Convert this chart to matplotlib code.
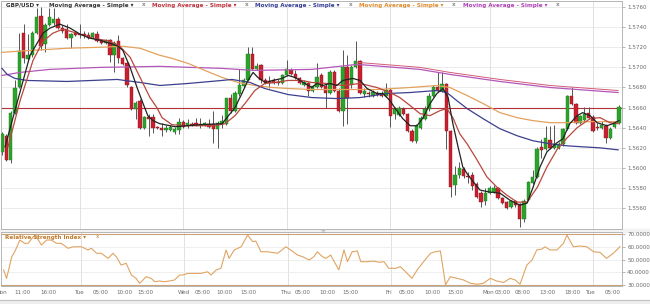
import matplotlib
matplotlib.use("Agg")
import matplotlib.pyplot as plt
import numpy as np

# ---------------- data ----------------
opens = [1.5616,1.5632,1.5608,1.5655,1.5680,1.5734,1.5708,1.5712,1.5734,1.5751,
         1.5723,1.5742,1.5744,1.5748,1.5739,1.5738,1.5729,1.5734,1.5733,1.5733,
         1.5732,1.5730,1.5733,1.5727,1.5724,1.5727,1.5712,1.5726,1.5709,1.5704,
         1.5680,1.5659,1.5667,1.5640,1.5651,1.5651,1.5641,1.5640,1.5638,1.5638,
         1.5636,1.5638,1.5646,1.5642,1.5644,1.5645,1.5644,1.5644,1.5644,1.5644,
         1.5639,1.5644,1.5644,1.5670,1.5657,1.5674,1.5681,1.5687,1.5713,1.5698,
         1.5702,1.5687,1.5686,1.5687,1.5685,1.5684,1.5692,1.5697,1.5693,1.5689,
         1.5682,1.5684,1.5677,1.5680,1.5692,1.5681,1.5675,1.5695,1.5677,1.5657,
         1.5700,1.5682,1.5700,1.5706,1.5674,1.5675,1.5672,1.5675,1.5674,1.5672,
         1.5678,1.5654,1.5653,1.5659,1.5654,1.5637,1.5627,1.5640,1.5649,1.5659,
         1.5672,1.5680,1.5677,1.5683,1.5637,1.5583,1.5593,1.5599,1.5592,1.5593,
         1.5584,1.5575,1.5567,1.5575,1.5576,1.5580,1.5570,1.5566,1.5561,1.5567,
         1.5564,1.5549,1.5568,1.5585,1.5591,1.5621,1.5619,1.5628,1.5620,1.5620,
         1.5624,1.5639,1.5672,1.5664,1.5645,1.5648,1.5655,1.5651,1.5641,1.5640,
         1.5642,1.5630,1.5641,1.5645]
highs = [1.5636,1.5634,1.5657,1.5687,1.5734,1.5743,1.5733,1.5736,1.5759,1.5760,
         1.5744,1.5759,1.5759,1.5750,1.5742,1.5743,1.5734,1.5736,1.5743,1.5736,
         1.5735,1.5735,1.5736,1.5728,1.5728,1.5728,1.5726,1.5732,1.5710,1.5705,
         1.5681,1.5667,1.5669,1.5652,1.5654,1.5654,1.5642,1.5645,1.5643,1.5643,
         1.5641,1.5650,1.5648,1.5649,1.5646,1.5650,1.5650,1.5646,1.5649,1.5657,
         1.5647,1.5653,1.5670,1.5674,1.5677,1.5698,1.5689,1.5720,1.5720,1.5704,
         1.5703,1.5689,1.5691,1.5689,1.5688,1.5693,1.5707,1.5699,1.5697,1.5690,
         1.5687,1.5685,1.5682,1.5704,1.5694,1.5683,1.5697,1.5697,1.5679,1.5717,
         1.5712,1.5702,1.5726,1.5707,1.5679,1.5677,1.5678,1.5677,1.5677,1.5684,
         1.5679,1.5661,1.5662,1.5661,1.5655,1.5639,1.5644,1.5652,1.5662,1.5675,
         1.5682,1.5695,1.5695,1.5684,1.5638,1.5602,1.5606,1.5601,1.5596,1.5596,
         1.5586,1.5577,1.5580,1.5582,1.5583,1.5581,1.5571,1.5567,1.5568,1.5568,
         1.5565,1.5569,1.5587,1.5598,1.5621,1.5629,1.5642,1.5642,1.5643,1.5626,
         1.5640,1.5673,1.5680,1.5665,1.5653,1.5661,1.5661,1.5653,1.5645,1.5647,
         1.5644,1.5641,1.5647,1.5663]
lows = [1.5613,1.5607,1.5605,1.5654,1.5679,1.5704,1.5707,1.5710,1.5733,1.5717,
        1.5715,1.5741,1.5742,1.5738,1.5734,1.5728,1.5719,1.5731,1.5729,1.5729,
        1.5728,1.5729,1.5725,1.5723,1.5723,1.5705,1.5695,1.5704,1.5702,1.5680,
        1.5658,1.5649,1.5639,1.5639,1.5632,1.5635,1.5639,1.5632,1.5636,1.5637,
        1.5634,1.5634,1.5640,1.5640,1.5642,1.5642,1.5640,1.5642,1.5640,1.5625,
        1.5620,1.5640,1.5643,1.5655,1.5656,1.5672,1.5680,1.5686,1.5697,1.5697,
        1.5684,1.5683,1.5679,1.5683,1.5682,1.5683,1.5691,1.5692,1.5688,1.5683,
        1.5681,1.5672,1.5676,1.5679,1.5679,1.5660,1.5674,1.5676,1.5656,1.5642,
        1.5644,1.5679,1.5699,1.5674,1.5671,1.5671,1.5671,1.5672,1.5671,1.5671,
        1.5641,1.5649,1.5652,1.5653,1.5636,1.5626,1.5625,1.5639,1.5648,1.5657,
        1.5671,1.5676,1.5676,1.5619,1.5571,1.5573,1.5590,1.5590,1.5585,1.5578,
        1.5570,1.5561,1.5563,1.5574,1.5575,1.5569,1.5564,1.5559,1.5560,1.5561,
        1.5541,1.5546,1.5567,1.5584,1.5590,1.5610,1.5618,1.5619,1.5619,1.5619,
        1.5622,1.5638,1.5663,1.5644,1.5644,1.5647,1.5649,1.5636,1.5638,1.5639,
        1.5625,1.5629,1.5640,1.5644]
closes = [1.5634,1.5608,1.5655,1.5679,1.5716,1.5709,1.5712,1.5734,1.5750,1.5721,
          1.5742,1.5750,1.5748,1.5739,1.5736,1.5729,1.5733,1.5732,1.5732,1.5732,
          1.5729,1.5734,1.5726,1.5724,1.5727,1.5712,1.5724,1.5709,1.5703,1.5682,
          1.5659,1.5665,1.5640,1.5651,1.5649,1.5640,1.5640,1.5638,1.5640,1.5641,
          1.5639,1.5646,1.5641,1.5645,1.5643,1.5643,1.5643,1.5645,1.5641,1.5639,
          1.5645,1.5647,1.5670,1.5657,1.5675,1.5682,1.5687,1.5713,1.5698,1.5701,
          1.5687,1.5684,1.5684,1.5684,1.5684,1.5692,1.5698,1.5693,1.5689,1.5684,
          1.5685,1.5677,1.5681,1.5690,1.5680,1.5675,1.5695,1.5677,1.5657,1.5700,
          1.5670,1.5700,1.5706,1.5675,1.5677,1.5674,1.5676,1.5673,1.5672,1.5678,
          1.5652,1.5659,1.5660,1.5654,1.5637,1.5627,1.5642,1.5650,1.5659,1.5672,
          1.5680,1.5677,1.5683,1.5637,1.5581,1.5593,1.5600,1.5592,1.5591,1.5582,
          1.5571,1.5566,1.5575,1.5580,1.5580,1.5570,1.5565,1.5560,1.5567,1.5563,
          1.5549,1.5567,1.5586,1.5591,1.5619,1.5618,1.5630,1.5620,1.5624,1.5624,
          1.5639,1.5672,1.5664,1.5645,1.5652,1.5654,1.5650,1.5637,1.5640,1.5643,
          1.5630,1.5639,1.5645,1.5661]

# moving averages (time in candle index)
ma_black_t = [0.7,3.0,6.5,9.5,11.1,13.4,15.8,18.1,20.4,22.7,25.0,26.9,28.0,29.7,31.3,32.7,33.8,35.0,
              36.6,40.1,45.9,51.0,54.0,55.6,57.0,58.2,59.3,61.0,62.8,64.9,66.3,67.9,70.2,71.8,73.0,
              74.4,76.0,77.6,79.0,81.3,83.0,84.6,86.9,88.3,89.9,91.5,92.9,94.6,96.2,97.6,99.2,100.8,
              102.2,103.4,104.5,105.7,106.8,108.0,108.9,110.8,113.1,115.4,117.7,120.0,121.7,123.1,
              124.7,126.3,128.6,130.0,131.6,133.3,134.6,136.3,137.9,140.2,141.6,143.0]
ma_black_v = [1.5621,1.5657,1.5712,1.5734,1.5739,1.5743,1.5739,1.5733,1.5729,1.5727,1.5724,1.5721,
              1.5717,1.5700,1.5680,1.5664,1.5652,1.5647,1.5644,1.5641,1.5643,1.5644,1.5660,1.5674,
              1.5687,1.5695,1.5690,1.5685,1.5687,1.5689,1.5692,1.5690,1.5684,1.5680,1.5684,1.5682,
              1.5684,1.5682,1.5687,1.5689,1.5687,1.5679,1.5674,1.5674,1.5667,1.5657,1.5649,1.5642,
              1.5642,1.5650,1.5664,1.5674,1.5679,1.5670,1.5644,1.5621,1.5601,1.5593,1.5588,1.5578,
              1.5576,1.5575,1.5568,1.5563,1.5565,1.5581,1.5601,1.5616,1.5625,1.5629,1.5644,1.5652,
              1.5655,1.5652,1.5645,1.5642,1.5644,1.5647]
ma_red_t = [1.4,4.2,7.2,9.5,11.8,14.1,17.4,21.1,25.0,27.3,29.7,32.0,34.3,35.9,37.1,39.4,43.1,49.4,
            51.7,54.0,56.3,58.6,60.9,63.3,66.3,69.5,71.8,75.3,79.0,83.0,86.9,89.9,92.2,94.6,96.9,
            99.2,101.5,103.1,104.5,106.1,107.8,110.1,112.4,114.7,117.0,119.4,121.7,124.1,126.3,
            128.6,131.0,133.3,136.3,138.6,140.9,142.8]
ma_red_v = [1.5621,1.5667,1.5707,1.5726,1.5734,1.5738,1.5734,1.5729,1.5726,1.5721,1.5710,1.5690,
            1.5670,1.5660,1.5650,1.5643,1.5642,1.5642,1.5644,1.5652,1.5664,1.5677,1.5684,1.5685,
            1.5687,1.5687,1.5685,1.5684,1.5682,1.5684,1.5680,1.5675,1.5670,1.5662,1.5654,1.5652,
            1.5657,1.5659,1.5650,1.5634,1.5624,1.5608,1.5591,1.5581,1.5573,1.5566,1.5566,1.5581,
            1.5601,1.5618,1.5630,1.5640,1.5649,1.5650,1.5645,1.5644]
ma_blue_t = [0.0,1.2,3.0,5.8,15.1,26.7,32.0,36.6,43.1,51.0,53.3,57.5,60.9,66.3,71.8,77.6,83.0,89.2,
             94.6,100.8,103.1,105.4,107.8,111.5,115.4,119.4,123.1,127.0,131.0,134.6,138.6,142.8]
ma_blue_v = [1.5699,1.5693,1.5689,1.5687,1.5686,1.5688,1.5685,1.5682,1.5684,1.5687,1.5688,1.5685,
             1.5679,1.5673,1.5670,1.5669,1.5670,1.5674,1.5675,1.5677,1.5675,1.5667,1.5659,1.5649,
             1.5639,1.5632,1.5627,1.5624,1.5622,1.5621,1.5620,1.5618]
ma_orange_t = [0.0,7.2,15.1,22.7,28.0,32.0,36.6,39.4,43.1,47.0,51.0,54.7,58.6,62.6,66.3,71.8,79.0,
               86.9,94.6,100.8,103.8,107.8,111.5,115.4,119.4,123.1,127.0,131.0,134.6,138.6,142.8]
ma_orange_v = [1.5715,1.5717,1.5719,1.5720,1.5721,1.5719,1.5712,1.5709,1.5704,1.5697,1.5690,1.5685,
               1.5682,1.5680,1.5679,1.5678,1.5678,1.5678,1.5680,1.5682,1.5680,1.5672,1.5664,1.5655,
               1.5650,1.5647,1.5645,1.5645,1.5646,1.5646,1.5646]
ma_magenta_t = [0.0,4.2,11.1,22.7,36.6,51.0,58.6,71.8,82.3,96.9,103.8,115.4,127.0,142.8]
ma_magenta_v = [1.5692,1.5695,1.5698,1.5700,1.5701,1.5699,1.5697,1.5698,1.5703,1.5698,1.5693,
                1.5686,1.5680,1.5675]
pink_t = [82.3, 96.9, 103.8, 115.4, 127.0, 142.8]
pink_v = [1.5705, 1.5700, 1.5695, 1.5688, 1.5682, 1.5677]
last_price = 1.5660

rsi_t = [0.0,0.7,1.9,2.6,3.8,4.9,5.7,6.9,7.6,8.8,10.0,11.1,12.3,13.4,15.0,16.2,18.1,19.6,20.4,21.6,
         22.7,24.3,25.4,26.2,27.3,28.5,29.7,30.8,31.6,32.4,33.1,34.3,35.1,36.2,37.4,38.5,39.7,40.9,
         41.6,42.8,44.0,45.9,47.4,48.2,49.4,50.5,51.7,52.4,53.6,55.2,56.7,57.9,58.6,59.8,61.3,63.7,
         65.6,66.7,68.3,69.5,71.0,72.1,72.9,74.1,74.9,76.0,77.9,79.1,79.9,81.0,82.2,83.0,84.5,86.0,
         87.2,88.4,89.5,91.1,92.2,93.4,94.9,96.1,97.6,99.2,100.3,101.5,102.7,103.8,105.4,106.9,108.5,
         110.0,111.5,113.1,114.6,116.2,117.7,118.9,120.0,121.6,122.8,123.9,125.1,125.8,127.0,128.6,
         130.1,130.9,132.4,134.0,135.5,137.1,138.6,140.1,141.7,143.2]
rsi_v = [41.8,35.2,52.2,56.1,65.3,62.7,62.7,67.9,67.9,61.4,65.3,65.3,62.7,62.7,58.8,60.0,60.0,57.5,58.8,
         54.9,54.9,50.9,54.9,52.2,45.7,47.0,37.8,35.2,31.3,33.9,36.5,35.2,32.6,33.1,32.6,33.1,33.9,37.8,
         37.8,39.1,39.1,39.1,40.4,37.8,41.8,43.1,57.5,50.9,57.5,60.0,69.2,64.0,64.5,56.1,56.1,54.9,60.0,
         57.5,53.5,52.2,49.6,52.2,56.1,52.2,50.9,53.5,41.8,57.5,48.3,56.1,56.7,48.3,48.3,48.8,47.8,48.3,
         43.1,43.1,44.4,40.4,35.2,41.8,48.3,54.9,56.1,56.7,30.2,36.5,35.2,33.9,31.3,30.6,31.3,35.2,33.1,
         32.0,35.2,33.9,30.6,45.7,49.6,57.5,58.2,60.0,57.5,57.5,62.7,69.2,60.0,60.6,60.0,56.1,55.6,50.9,
         54.9,60.0]

price_ticks = [1.5560,1.5580,1.5600,1.5620,1.5640,1.5660,1.5680,1.5700,1.5720,1.5740,1.5760]
rsi_ticks = [30, 40, 50, 60, 70]
day_lines = [18, 42, 66, 90, 113, 137]
time_pos = [-0.6,4.4,10.4,17.6,22.6,28.0,32.9,41.9,46.3,51.4,56.8,65.6,69.5,75.3,80.6,89.5,93.6,
            99.7,105.0,112.6,115.9,120.7,126.3,132.1,136.5,141.6]
time_lbl = ["Mon","11:00","16:00","Tue","05:00","10:00","15:00","Wed","05:00","10:00","15:00",
            "Thu","05:00","10:00","15:00","Fri","05:00","10:00","15:00","Mon","03:00","08:00",
            "13:00","18:00","Tue","05:00"]

# ---------------- figure ----------------
W, H = 650, 304
fig = plt.figure(figsize=(6.5, 3.04), dpi=100)
fig.patch.set_facecolor("white")
fx = lambda px: px / W
fy = lambda py: 1 - py / H

ax = fig.add_axes([fx(1), fy(229), fx(622) - fx(1), fy(1) - fy(229)])
rax = fig.add_axes([fx(1), fy(286), fx(622) - fx(1), fy(232) - fy(286)])

n = len(opens)
x = np.arange(n)
o = np.array(opens); c = np.array(closes); h = np.array(highs); l = np.array(lows)
up = c >= o
GREEN, RED = "#2aa52a", "#c8202e"
GEDGE, REDGE = "#1f7a1f", "#8e1420"

xl = (-0.23, 143.7)
ax.set_xlim(*xl)
ax.set_ylim(1.55393, 1.5766)

for p in price_ticks:
    ax.axhline(p, color="#e8e8e8", lw=0.6, zorder=0)
for d in day_lines:
    ax.axvline(d, color="#dcdcdc", lw=0.6, zorder=0)
    rax.axvline(d, color="#dcdcdc", lw=0.6, zorder=0)

ax.vlines(x, l, h, color="#555555", lw=0.7, zorder=2)
body_b = np.minimum(o, c)
body_h = np.maximum(np.abs(c - o), 0.00009)
ax.bar(x[up], body_h[up], bottom=body_b[up], width=0.78, color=GREEN,
       edgecolor=GEDGE, lw=0.3, zorder=3)
ax.bar(x[~up], body_h[~up], bottom=body_b[~up], width=0.78, color=RED,
       edgecolor=REDGE, lw=0.3, zorder=3)

ax.axhline(last_price, color="#b03038", lw=0.8, zorder=1)
ax.plot(pink_t, pink_v, color="#d25a78", lw=0.7, zorder=4)
ax.plot(ma_magenta_t, ma_magenta_v, color="#b457b8", lw=0.9, zorder=4)
ax.plot(ma_orange_t, ma_orange_v, color="#e3a15c", lw=0.9, zorder=4)
ax.plot(ma_blue_t, ma_blue_v, color="#3d3f8f", lw=0.9, zorder=4)
ax.plot(ma_red_t, ma_red_v, color="#b8473c", lw=0.9, zorder=5)
ax.plot(ma_black_t, ma_black_v, color="#222222", lw=0.9, zorder=6)

TICKC = "#6b6b6b"
for a in (ax, rax):
    a.yaxis.tick_right()
    a.tick_params(axis="y", length=2.5, width=0.5, colors="#9a9a9a", labelsize=4.1,
                  labelcolor=TICKC, pad=1.2)
    for s in a.spines.values():
        s.set_color("#b5b5b5"); s.set_linewidth(0.7)
    a.set_facecolor("white")

ax.set_yticks(price_ticks)
ax.set_yticklabels([f"{p:.4f}" for p in price_ticks])
ax.set_xticks([])

rax.set_xlim(*xl)
rax.set_ylim(29.2, 71.6)
for r in (40, 50, 60):
    rax.axhline(r, color="#ececec", lw=0.6, zorder=0)
rax.axhline(70, color="#c9a27a", lw=0.8, zorder=1)
rax.axhline(30, color="#c9a27a", lw=0.8, zorder=1)
rax.plot(rsi_t, rsi_v, color="#e0a462", lw=0.8, zorder=3)
rax.set_yticks(rsi_ticks)
rax.set_yticklabels([f"{r:.4f}" for r in rsi_ticks])
rax.set_xticks(time_pos)
rax.set_xticklabels(time_lbl)
rax.tick_params(axis="x", length=0, labelsize=4.1, labelcolor=TICKC, pad=3)

# header legend texts
HFS = 4.1
hdr = [(6, "GBP/USD \u25be", "#333333"),
       (49, "Moving Average - Simple \u25be", "#333333"), (142, "x", "#888888"),
       (152, "Moving Average - Simple \u25be", "#c0303a"), (245, "x", "#888888"),
       (255, "Moving Average - Simple \u25be", "#343a96"), (349, "x", "#888888"),
       (359, "Moving Average - Simple \u25be", "#e08a2a"), (452, "x", "#888888"),
       (463, "Moving Average - Simple \u25be", "#b040b8"), (556, "x", "#888888")]
for px, t, col in hdr:
    fig.text(fx(px), fy(5), t, color=col, fontsize=HFS, fontweight="bold",
             ha="left", va="center")
fig.text(fx(5), fy(237), "Relative Strength Index \u25be", color="#c07a2a", fontsize=HFS,
         fontweight="bold", ha="left", va="center")
fig.text(fx(96), fy(237), "x", color="#c07a2a", fontsize=HFS, ha="left", va="center")

# separator / grip and bottom bar
fig.add_artist(plt.Rectangle((fx(0), fy(232)), 1, fy(229) - fy(232),
                             color="#f2f2f2", transform=fig.transFigure, zorder=0))
fig.text(fx(323), fy(230.5), "\u2261", color="#aaaaaa", fontsize=4, ha="center", va="center")
fig.add_artist(plt.Line2D([0, 1], [fy(300), fy(300)], color="#c4c4c4", lw=0.8,
                          transform=fig.transFigure))
fig.add_artist(plt.Rectangle((0, 0), 1, fy(300), color="#eeeeee",
                             transform=fig.transFigure, zorder=0))

fig.savefig("out.png", dpi=100)
